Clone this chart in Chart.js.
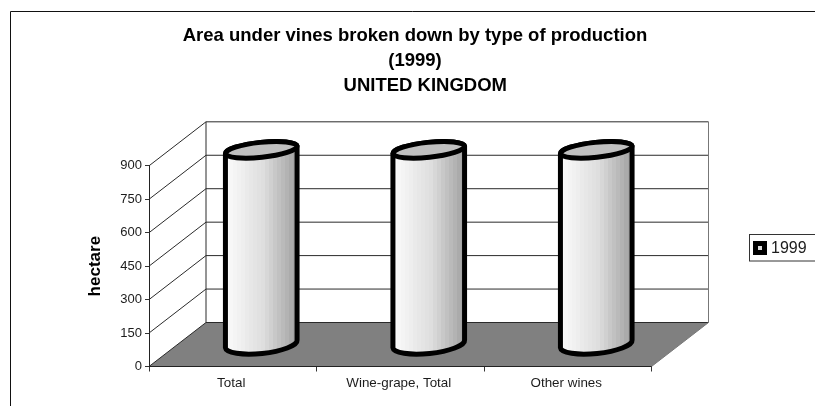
<!DOCTYPE html>
<html>
<head>
<meta charset="utf-8">
<style>html,body{margin:0;padding:0;background:#fff}canvas{display:block}</style>
<script src="https://cdn.jsdelivr.net/npm/chart.js@4"></script>
</head>
<body>
<div style="width:815px;height:406px"><canvas id="c" width="815" height="406"></canvas></div>
<script>
const categories = ['Total', 'Wine-grape, Total', 'Other wines'];
const seriesLabel = '1999';
const values = [873, 873, 873];
const yTicks = [0, 150, 300, 450, 600, 750, 900];
const titleLines = ['Area under vines broken down by type of production', '(1999)', '    UNITED KINGDOM'];
const yAxisTitle = 'hectare';

const FONT = '"Liberation Sans", Arial, sans-serif';
const DX = 57, DY = -44;
const INK = '#1c1c1c';

function cylinder(ctx, bar) {
  const rx = bar.width / 2, ry = 7.5, rot = -6 * Math.PI / 180;
  const cx = bar.x + DX / 2;
  const topY = bar.y + DY / 2, baseY = bar.base + DY / 2;
  const sx = rx * Math.cos(rot), sy = rx * Math.sin(rot);

  const grad = ctx.createLinearGradient(cx - rx, 0, cx + rx, 0);
  const bands = 18;
  for (let i = 0; i < bands; i++) {
    const t = i / bands;
    const v = Math.round(t < 0.5 ? 250 - 56 * t : 222 - 130 * (t - 0.5));
    const c = `rgb(${v},${v},${v})`;
    grad.addColorStop(t, c);
    grad.addColorStop((i + 1) / bands, c);
  }
  ctx.save();
  ctx.lineWidth = 5;
  ctx.strokeStyle = '#000';
  ctx.lineJoin = 'round';
  ctx.beginPath();
  ctx.moveTo(cx - sx, topY - sy);
  ctx.lineTo(cx - sx, baseY - sy);
  ctx.ellipse(cx, baseY, rx, ry + 2, rot, Math.PI, 0, true);
  ctx.lineTo(cx + sx, topY + sy);
  ctx.ellipse(cx, topY, rx, ry, rot, 0, Math.PI, true);
  ctx.closePath();
  ctx.fillStyle = grad;
  ctx.fill();
  ctx.stroke();
  ctx.beginPath();
  ctx.ellipse(cx, topY, rx, ry, rot, 0, Math.PI * 2);
  ctx.fillStyle = '#c0c0c0';
  ctx.fill();
  ctx.stroke();
  ctx.restore();
}

const scene = {
  id: 'scene',
  afterLayout(chart) {
    chart.titleBlock.left = 15;
    chart.titleBlock.right = 815;
  },
  beforeDraw(chart) {
    const c = chart.ctx;
    c.save();
    c.strokeStyle = '#111';
    c.lineWidth = 1;
    c.beginPath();
    c.moveTo(10.5, 406);
    c.lineTo(10.5, 11.5);
    c.lineTo(815, 11.5);
    c.stroke();
    c.restore();
  },
  beforeDatasetsDraw(chart) {
    const c = chart.ctx, a = chart.chartArea, y = chart.scales.y;
    c.save();
    c.lineWidth = 1;
    // floor
    c.beginPath();
    c.moveTo(a.left, a.bottom);
    c.lineTo(a.left + DX, a.bottom + DY);
    c.lineTo(a.right + DX, a.bottom + DY);
    c.lineTo(a.right, a.bottom);
    c.closePath();
    c.fillStyle = '#808080';
    c.fill();
    // wall grid
    c.strokeStyle = '#2a2a2a';
    yTicks.forEach(t => {
      const p = y.getPixelForValue(t);
      c.beginPath();
      c.moveTo(a.left, p);
      c.lineTo(a.left + DX, p + DY);
      c.lineTo(a.right + DX, p + DY);
      c.stroke();
    });
    // wall verticals and right floor edge
    c.beginPath();
    c.moveTo(a.left + DX, a.top + DY);
    c.lineTo(a.left + DX, a.bottom + DY);
    c.stroke();
    c.strokeStyle = '#777';
    c.beginPath();
    c.moveTo(a.right + DX, a.top + DY);
    c.lineTo(a.right + DX, a.bottom + DY);
    c.lineTo(a.right, a.bottom);
    c.stroke();
    c.strokeStyle = '#222';
    c.beginPath();
    c.moveTo(a.left, a.bottom);
    c.lineTo(a.right, a.bottom);
    c.stroke();
    c.restore();
  },
  afterDatasetsDraw(chart) {
    const c = chart.ctx;
    chart.getDatasetMeta(0).data.forEach(bar => cylinder(c, bar));
    // legend
    c.save();
    c.strokeStyle = '#333';
    c.lineWidth = 1;
    c.strokeRect(749.5, 234.5, 66, 26.5);
    c.fillStyle = '#000';
    c.fillRect(753, 241, 14, 14);
    c.fillStyle = '#ddd';
    c.fillRect(758, 246, 4, 4);
    c.fillStyle = INK;
    c.font = '16px ' + FONT;
    c.textBaseline = 'middle';
    c.textAlign = 'left';
    c.fillText(chart.data.datasets[0].label, 771, 248.5);
    c.restore();
  }
};

new Chart(document.getElementById('c'), {
  type: 'bar',
  data: {
    labels: categories,
    datasets: [{
      label: seriesLabel,
      data: values,
      backgroundColor: 'rgba(0,0,0,0)',
      borderWidth: 0,
      barPercentage: 0.43,
      categoryPercentage: 1
    }]
  },
  plugins: [scene],
  options: {
    responsive: false,
    animation: false,
    layout: { padding: { left: 15, right: 163.5, top: 0, bottom: 0 } },
    plugins: {
      legend: { display: false },
      tooltip: { enabled: false },
      title: {
        display: true,
        text: titleLines,
        color: '#000',
        font: { family: FONT, size: 18.5, weight: 'bold', lineHeight: 1.33 },
        padding: { top: 24, bottom: 68 }
      }
    },
    scales: {
      x: {
        afterFit(s) { s.height = 39.5; },
        grid: { drawOnChartArea: false, drawTicks: true, tickLength: 5, color: '#333' },
        border: { color: '#222' },
        ticks: { color: INK, font: { family: FONT, size: 13.4 }, padding: 4, labelOffset: -1.5, maxRotation: 0 }
      },
      y: {
        min: 0,
        max: 900,
        afterFit(s) { s.width = 134; },
        afterBuildTicks(s) { s.ticks = yTicks.map(v => ({ value: v })); },
        grid: { drawOnChartArea: false, drawTicks: true, tickLength: 4, color: '#333' },
        border: { color: '#222' },
        ticks: { color: INK, font: { family: FONT, size: 13 }, padding: 3 },
        title: {
          display: true,
          text: yAxisTitle,
          color: '#000',
          font: { family: FONT, size: 17, weight: 'bold' },
          padding: { top: 70, bottom: 0 }
        }
      }
    }
  }
});
</script>
</body>
</html>
